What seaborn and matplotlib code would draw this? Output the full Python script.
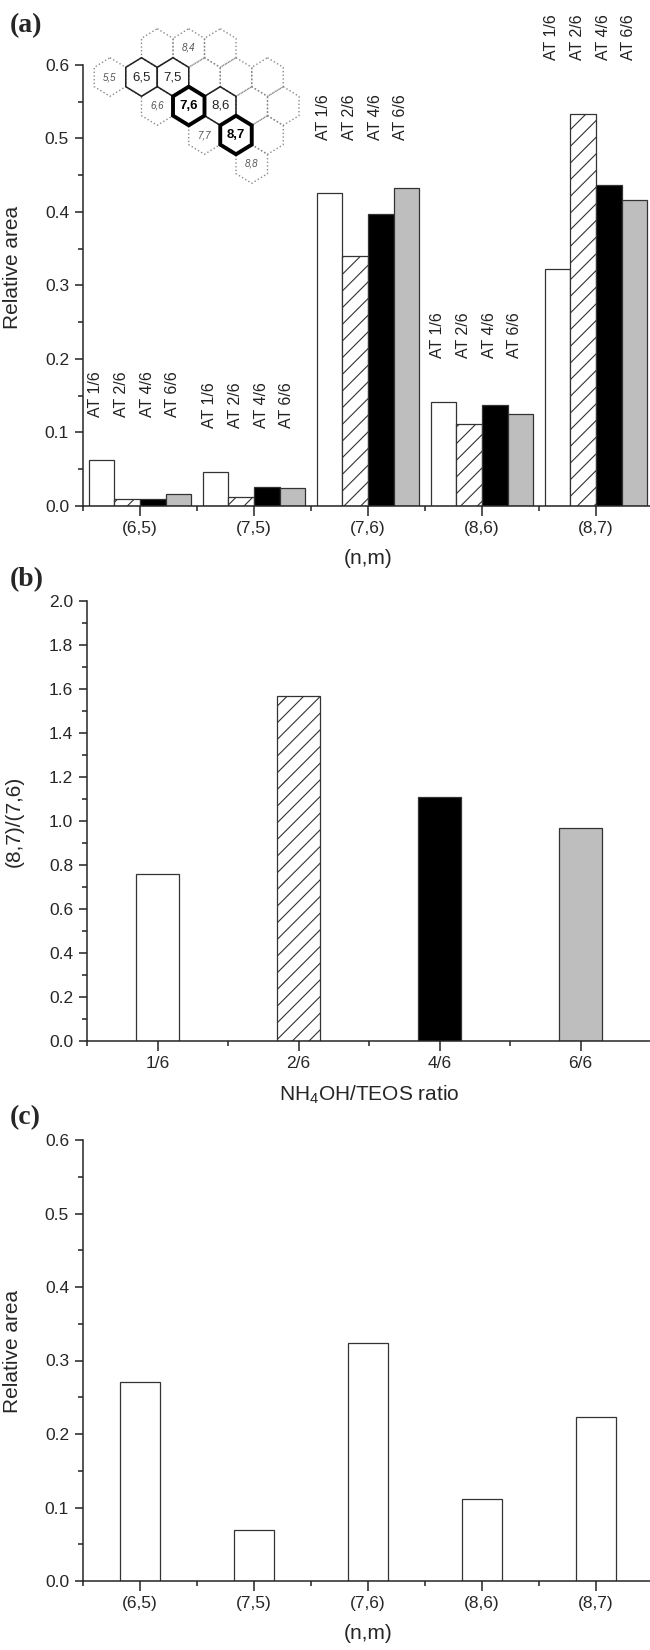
"""
Relative areas of (n,m) species for the AT samples, plus (8,7)/(7,6) ratio.
"""

import numpy as np
import pandas as pd
import matplotlib
matplotlib.use("Agg")
import matplotlib.pyplot as plt
import seaborn as sns
from matplotlib.patches import Polygon
from matplotlib.ticker import MultipleLocator, FormatStrFormatter

# ---- data ----
nm_labels = ['(6,5)', '(7,5)', '(7,6)', '(8,6)', '(8,7)']
at_samples = ['AT 1/6', 'AT 2/6', 'AT 4/6', 'AT 6/6']
area_at16 = [0.063, 0.046, 0.426, 0.141, 0.323]
area_at26 = [0.009, 0.012, 0.340, 0.111, 0.534]
area_at46 = [0.009, 0.026, 0.397, 0.138, 0.437]
area_at66 = [0.016, 0.025, 0.432, 0.125, 0.417]

ratio_labels = ['1/6', '2/6', '4/6', '6/6']
ratio_87_76 = [0.757, 1.567, 1.107, 0.967]

area_c = [0.271, 0.070, 0.324, 0.111, 0.223]

# chirality map inset
hex_bold = [(7, 6), (8, 7)]
hex_solid = [(6, 5), (7, 5), (8, 6)]
hex_named = [(5, 5), (6, 6), (7, 7), (8, 8), (8, 4)]
hex_dotted = ([(n, 4) for n in (7, 8, 9)] + [(n, 5) for n in range(5, 11)]
              + [(n, 6) for n in range(6, 11)] + [(n, 7) for n in (7, 8, 9)] + [(8, 8)])

# label heights above each group (data units of panel a)
label_base = [0.121, 0.106, 0.498, 0.201, 0.607]

bar_colors = ['white', 'white', 'black', '#bebebe']
edge = '#333333'

sns.set_style('ticks')
plt.rcParams['font.family'] = ['Liberation Sans', 'DejaVu Sans']
plt.rcParams.update({
    'axes.linewidth': 1.1,
    'hatch.color': '#444444',
    'hatch.linewidth': 0.8,
    'mathtext.fontset': 'custom',
    'mathtext.rm': 'Liberation Sans',
})


def style_axes(ax, ncat, ymax, major, minor):
    ax.set_xlim(-0.5, ncat - 0.5)
    ax.set_ylim(0, ymax)
    ax.set_xticks(np.arange(-0.5, ncat, 1), minor=True)
    ax.yaxis.set_major_locator(MultipleLocator(major))
    ax.yaxis.set_minor_locator(MultipleLocator(minor))
    ax.yaxis.set_major_formatter(FormatStrFormatter('%.1f'))
    sns.despine(ax=ax)
    ax.tick_params(which='major', length=6, width=1.1, labelsize=12.5, pad=4, color='#222222')
    ax.tick_params(which='minor', length=3.5, width=1.1, color='#222222')
    ax.tick_params(axis='x', which='major', length=7)
    ax.set_facecolor('none')


fig = plt.figure(figsize=(6.5, 16.5), dpi=100)

# ---- (a) ----
ax_a = fig.add_axes([83 / 650, 1 - 506 / 1650, 570 / 650, 441 / 1650])
df_a = pd.DataFrame({
    'nm': nm_labels * 4,
    'sample': np.repeat(at_samples, len(nm_labels)),
    'area': area_at16 + area_at26 + area_at46 + area_at66,
})
sns.barplot(data=df_a, x='nm', y='area', hue='sample', order=nm_labels,
            hue_order=at_samples, palette=dict(zip(at_samples, bar_colors)),
            width=0.9, gap=0, edgecolor=edge, linewidth=0.9, legend=False,
            errorbar=None, ax=ax_a)
for p in ax_a.containers[1]:
    p.set_hatch('//')
style_axes(ax_a, len(nm_labels), 0.6, 0.1, 0.05)
ax_a.set_xticks(range(len(nm_labels)), labels=nm_labels)
ax_a.set_xlabel('(n,m)', fontsize=15, labelpad=9)
ax_a.set_ylabel('Relative area', fontsize=15)
ax_a.yaxis.set_label_coords(-0.107, 0.54)

for i, base in enumerate(label_base):
    for j, s in enumerate(at_samples):
        x = i + (j - 1.5) * 0.225 - 0.05
        ax_a.text(x, base, s, rotation=90, ha='center', va='bottom',
                  fontsize=11.5, color='#222222', clip_on=False)

# chirality map inset
ax_h = fig.add_axes([85 / 650, 1 - 190 / 1650, 225 / 650, 170 / 1650])
ax_h.set_xlim(85, 310)
ax_h.set_ylim(190, 20)
ax_h.axis('off')
w, h = 15.75, 19.3


def hex_center(n, m):
    return 110 + (n - 5) * 31.5 + (m - 5) * 15.75, 77 + (m - 5) * 29


def draw_hex(n, m, **kw):
    x, y = hex_center(n, m)
    verts = [(x, y - h), (x + w, y - h / 2), (x + w, y + h / 2),
             (x, y + h), (x - w, y + h / 2), (x - w, y - h / 2)]
    ax_h.add_patch(Polygon(verts, closed=True, fill=False, **kw))


for n, m in hex_dotted:
    draw_hex(n, m, edgecolor='#8a8a8a', linestyle=':', linewidth=1.0)
for n, m in hex_solid:
    draw_hex(n, m, edgecolor='#222222', linewidth=1.1)
for n, m in hex_bold:
    draw_hex(n, m, edgecolor='black', linewidth=2.8)

for n, m in hex_named:
    x, y = hex_center(n, m)
    ax_h.text(x, y, f'{n},{m}', ha='center', va='center', fontsize=7,
              style='italic', color='#555555')
for n, m in hex_solid:
    x, y = hex_center(n, m)
    ax_h.text(x, y, f'{n},{m}', ha='center', va='center', fontsize=9.5, color='#222222')
for n, m in hex_bold:
    x, y = hex_center(n, m)
    ax_h.text(x, y, f'{n},{m}', ha='center', va='center', fontsize=9.5,
              fontweight='bold', color='black')

# ---- (b) ----
ax_b = fig.add_axes([87 / 650, 1 - 1041 / 1650, 564 / 650, 440 / 1650])
sns.barplot(x=ratio_labels, y=ratio_87_76, hue=ratio_labels,
            palette=dict(zip(ratio_labels, bar_colors)), width=0.3,
            edgecolor=edge, linewidth=0.9, legend=False, ax=ax_b)
ax_b.patches[1].set_hatch('//')
style_axes(ax_b, len(ratio_labels), 2.0, 0.2, 0.1)
ax_b.set_xticks(range(len(ratio_labels)), labels=ratio_labels)
ax_b.set_xlabel(r'NH$_{\mathregular{4}}$OH/TEOS ratio', fontsize=15, labelpad=9)
ax_b.set_ylabel('(8,7)/(7,6)', fontsize=15)
ax_b.yaxis.set_label_coords(-0.113, 0.5)

# ---- (c) ----
ax_c = fig.add_axes([83 / 650, 1 - 1581 / 1650, 570 / 650, 441 / 1650])
sns.barplot(x=nm_labels, y=area_c, color='white', width=0.35,
            edgecolor=edge, linewidth=0.9, ax=ax_c)
for p in ax_c.patches:
    p.set_facecolor('white')
style_axes(ax_c, len(nm_labels), 0.6, 0.1, 0.05)
ax_c.set_xticks(range(len(nm_labels)), labels=nm_labels)
ax_c.set_xlabel('(n,m)', fontsize=15, labelpad=9)
ax_c.set_ylabel('Relative area', fontsize=15)
ax_c.yaxis.set_label_coords(-0.107, 0.52)

# panel letters
for lbl, ypix in [('(a)', 26), ('(b)', 580), ('(c)', 1118)]:
    fig.text(10 / 650, 1 - ypix / 1650, lbl, family='Liberation Serif',
             weight='bold', size=20, ha='left', va='center')

fig.savefig('out.png', dpi=100)
